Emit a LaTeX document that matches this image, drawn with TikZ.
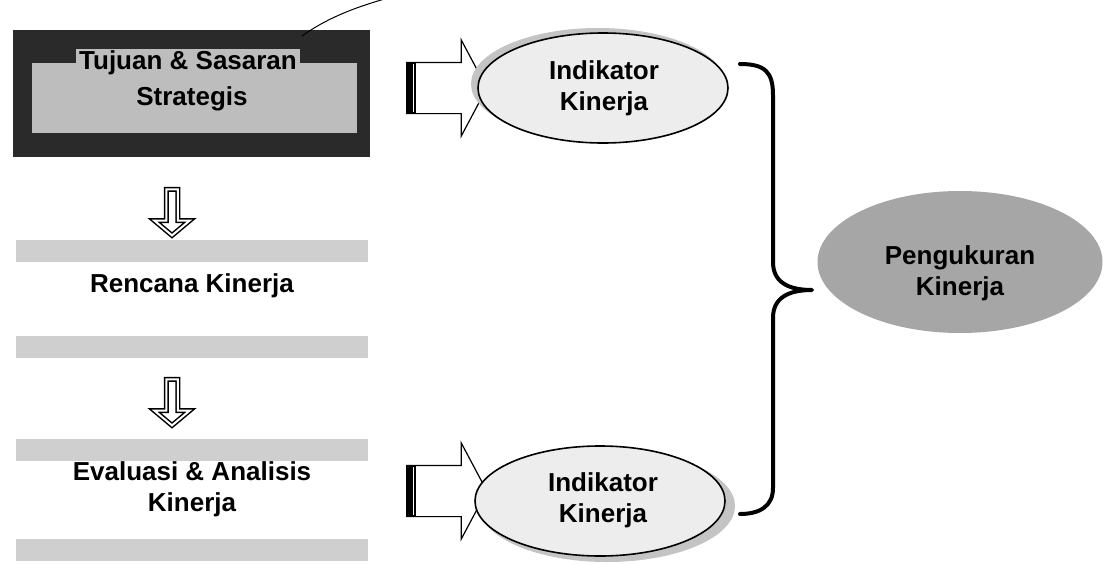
\documentclass[tikz,border=0pt]{standalone}
\usepackage{fontspec}
\setmainfont{Liberation Sans}
\usetikzlibrary{shapes.geometric,shapes.arrows}
\definecolor{darkframe}{HTML}{2A2A2A}
\definecolor{panel}{HTML}{BDBDBD}
\definecolor{band}{HTML}{CFCFCF}
\definecolor{ellfill}{HTML}{EDEDED}
\definecolor{ellshadow}{HTML}{C4C4C4}
\definecolor{bigell}{HTML}{A6A6A6}
\tikzset{
  lbl/.style={font=\fontsize{26}{31}\selectfont\bfseries, align=center, text=black, inner sep=0pt},
  bandbox/.style={fill=band, draw=none, minimum width=352pt, minimum height=22pt, inner sep=0pt},
  indik/.style={ellipse, draw=black, line width=1.6pt, fill=ellfill, minimum width=250pt, minimum height=110pt, inner sep=0pt},
  blockarrow/.style={single arrow, draw=black, line width=1.2pt, fill=white, minimum height=80pt,
     inner xsep=0pt, inner ysep=25pt, single arrow head extend=22.5pt, single arrow tip angle=124},
  downarrow/.style={single arrow, rotate=-90, draw=black, line width=1.5pt, double=white, double distance=2pt,
     minimum height=46pt, inner xsep=0pt, inner ysep=5pt, single arrow head extend=12pt, single arrow tip angle=100},
  brace/.style={line width=4pt, line cap=round, line join=round}
}
\begin{document}
\begin{tikzpicture}[x=1pt,y=-1pt]
\useasboundingbox (0,0) rectangle (1104,565);
\fill[white] (0,0) rectangle (1104,565);

% top box
\node[fill=darkframe, minimum width=357pt, minimum height=127pt, inner sep=0pt] (topbox) at (191.5,93.5) {};
\node[fill=panel, minimum width=325pt, minimum height=70pt, inner sep=0pt] (toppanel) at (194.5,97.5) {};
\node[lbl, fill=panel, inner xsep=3pt, inner ysep=2pt] (t1) at (188,63) {Tujuan \& Sasaran};
\node[lbl] (t2) at (192,99) {Strategis};
\coordinate (curveend) at (388,-2);
\draw[line width=1pt] (302,36) .. controls (330,16) and (360,6) .. (curveend);

% rencana kinerja
\node[bandbox] (b1) at (192,251) {};
\node[bandbox] (b2) at (192,347) {};
\node[lbl] (renc) at (192,286) {Rencana Kinerja};

% evaluasi
\node[bandbox] (b3) at (192,450) {};
\node[bandbox] (b4) at (192,550) {};
\node[lbl] (eval) at (192,489) {Evaluasi \& Analisis\\Kinerja};

% down arrows
\node[downarrow] (d1) at (172,210) {};
\node[downarrow] (d2) at (172,400) {};

% right block arrows
\node[blockarrow] (a1) at (440,88) {};
\fill[black] ([yshift=25pt]a1.west) rectangle ([xshift=10pt,yshift=-25pt]a1.west);
\draw[white, line width=1pt] ([xshift=7pt,yshift=24pt]a1.west) -- ([xshift=7pt,yshift=-24pt]a1.west);
\node[blockarrow] (a2) at (440,491) {};
\fill[black] ([yshift=25pt]a2.west) rectangle ([xshift=10pt,yshift=-25pt]a2.west);
\draw[white, line width=1pt] ([xshift=7pt,yshift=24pt]a2.west) -- ([xshift=7pt,yshift=-24pt]a2.west);

% indikator ellipses
\fill[ellshadow] (598,84) ellipse (127pt and 56pt);
\node[indik] (i1) at (603,88) {};
\node[lbl] (i1t) at (604,88) {Indikator\\Kinerja};
\fill[ellshadow] (607,506) ellipse (128pt and 56pt);
\node[indik] (i2) at (600,501) {};
\node[lbl] (i2t) at (603,500) {Indikator\\Kinerja};

% pengukuran
\node[ellipse, fill=bigell, minimum width=285pt, minimum height=142pt, inner sep=0pt] (pk) at (960,262) {};
\node[lbl] (pkt) at (960,273) {Pengukuran\\Kinerja};

% brace
\coordinate (bt) at (740,64);
\coordinate (bb) at (740,514);
\coordinate (tip) at (812,290);
\draw[brace] (bt) .. controls (765,64) and (773,72) .. (773,95) -- (773,262)
  .. controls (773,282) and (788,290) .. (tip)
  .. controls (788,290) and (773,298) .. (773,318) -- (773,488)
  .. controls (773,506) and (760,514) .. (bb);
\end{tikzpicture}
\end{document}
